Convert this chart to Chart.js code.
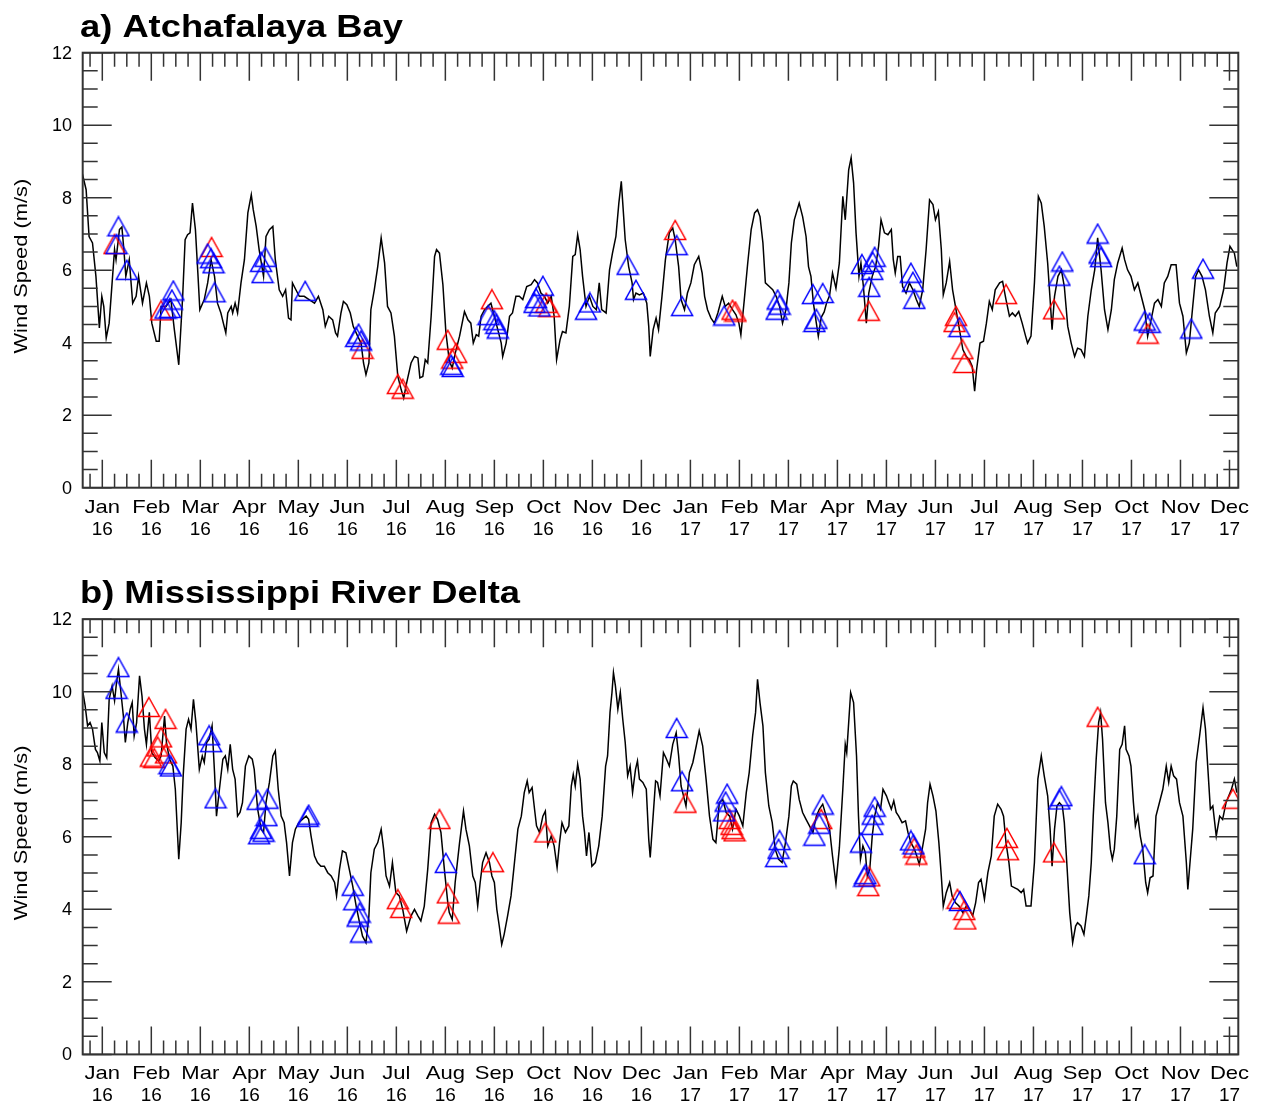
<!DOCTYPE html>
<html>
<head>
<meta charset="utf-8">
<title>Wind speed</title>
<script src="https://cdn.jsdelivr.net/npm/chart.js@4.4.1/dist/chart.umd.min.js"></script>
<style>
  html, body { margin: 0; padding: 0; background: #fff; }
  canvas { position: absolute; left: 0; }
  #panelA { top: 0; }
  #panelB { top: 553px; }
</style>
</head>
<body>
<canvas id="panelA" width="1261" height="553"></canvas>
<canvas id="panelB" width="1261" height="553"></canvas>
<script>
// x values are months counted from Jan 2016 (0 = Jan 16 tick)
const monthNames = ["Jan","Feb","Mar","Apr","May","Jun","Jul","Aug","Sep","Oct","Nov","Dec",
                    "Jan","Feb","Mar","Apr","May","Jun","Jul","Aug","Sep","Oct","Nov","Dec"];
const yearNames = ["16","16","16","16","16","16","16","16","16","16","16","16",
                   "17","17","17","17","17","17","17","17","17","17","17","17"];
const yTicks = [0, 2, 4, 6, 8, 10, 12];

// a) Atchafalaya Bay - wind speed (m/s)
const tA = [-0.41,-0.33,-0.27,-0.20,-0.13,-0.06,-0.01,0.03,0.08,0.14,0.20,0.25,0.28,0.35,0.40,0.44,0.48,0.55,0.62,0.69,
  0.74,0.82,0.90,0.96,1.01,1.10,1.16,1.20,1.30,1.40,1.47,1.56,1.64,1.69,1.74,1.79,1.84,1.90,1.95,1.99,
  2.08,2.15,2.22,2.29,2.35,2.42,2.47,2.52,2.56,2.63,2.66,2.71,2.76,2.83,2.90,2.97,3.04,3.08,3.14,3.20,
  3.29,3.34,3.41,3.48,3.53,3.61,3.68,3.74,3.80,3.85,3.88,3.95,4.02,4.12,4.22,4.33,4.41,4.50,4.55,4.62,
  4.70,4.76,4.80,4.87,4.92,4.99,5.06,5.12,5.21,5.28,5.33,5.38,5.44,5.48,5.55,5.62,5.69,5.76,5.82,5.89,
  5.96,6.03,6.10,6.15,6.21,6.30,6.37,6.44,6.48,6.54,6.59,6.64,6.71,6.78,6.82,6.88,6.95,7.01,7.08,7.14,
  7.20,7.29,7.39,7.46,7.52,7.57,7.63,7.68,7.73,7.80,7.86,7.93,8.00,8.07,8.14,8.17,8.24,8.31,8.37,8.44,
  8.51,8.58,8.66,8.75,8.82,8.88,8.95,9.02,9.09,9.16,9.22,9.27,9.34,9.39,9.46,9.53,9.60,9.65,9.70,9.75,
  9.80,9.87,9.94,10.01,10.08,10.14,10.19,10.28,10.35,10.41,10.48,10.54,10.59,10.62,10.67,10.74,10.81,10.84,10.89,10.96,
  11.04,11.11,11.15,11.18,11.24,11.30,11.35,11.42,11.49,11.57,11.64,11.69,11.76,11.81,11.88,11.94,12.01,12.08,12.17,12.24,
  12.29,12.35,12.42,12.49,12.56,12.65,12.71,12.78,12.86,12.93,12.99,13.03,13.10,13.17,13.24,13.31,13.37,13.42,13.48,13.53,
  13.61,13.68,13.75,13.82,13.88,13.95,14.01,14.06,14.12,14.22,14.29,14.36,14.41,14.46,14.51,14.57,14.61,14.67,14.73,14.78,
  14.84,14.90,14.97,15.04,15.11,15.16,15.23,15.28,15.33,15.38,15.44,15.48,15.53,15.59,15.64,15.71,15.78,15.84,15.89,15.96,
  16.03,16.10,16.14,16.18,16.23,16.28,16.33,16.40,16.47,16.54,16.61,16.67,16.74,16.81,16.88,16.95,17.00,17.06,17.12,17.16,
  17.22,17.29,17.35,17.42,17.49,17.56,17.63,17.69,17.75,17.80,17.84,17.91,17.98,18.04,18.10,18.16,18.22,18.31,18.37,18.44,
  18.51,18.57,18.63,18.70,18.77,18.84,18.88,18.95,19.02,19.07,19.10,19.16,19.22,19.29,19.34,19.38,19.43,19.50,19.57,19.63,
  19.70,19.77,19.84,19.90,19.97,20.04,20.11,20.18,20.25,20.31,20.38,20.45,20.52,20.59,20.65,20.72,20.81,20.86,20.92,20.99,
  21.06,21.13,21.20,21.27,21.33,21.40,21.47,21.54,21.61,21.67,21.74,21.81,21.91,21.98,22.05,22.12,22.18,22.25,22.31,22.37,
  22.44,22.51,22.59,22.66,22.71,22.80,22.88,22.95,23.01,23.10,23.15];
const wA = [8.68,8.22,6.93,6.75,5.83,4.41,5.28,5.00,4.13,4.54,5.65,6.57,6.29,7.12,7.19,6.57,5.83,6.29,5.09,5.28,
  5.83,5.09,5.65,5.28,4.54,4.04,4.04,5.00,5.00,5.19,4.36,3.39,5.28,6.84,6.98,7.03,7.85,7.12,5.92,4.91,
  5.19,5.65,6.29,5.83,5.09,4.82,4.54,4.27,4.82,5.00,4.82,5.09,4.82,5.65,6.29,7.58,8.08,7.67,7.21,6.57,
  5.83,6.93,7.12,7.21,6.29,5.46,5.28,5.46,4.68,4.63,5.65,5.46,5.28,5.28,5.19,5.09,5.28,4.91,4.45,4.73,
  4.63,4.27,4.18,4.82,5.14,5.05,4.82,4.45,4.18,3.99,3.44,3.12,3.44,4.91,5.46,6.10,6.89,6.20,5.00,4.82,
  4.18,3.07,2.70,2.47,2.89,3.44,3.62,3.58,3.03,3.07,3.53,3.44,4.73,6.38,6.57,6.47,5.60,4.30,3.50,3.30,
  3.70,4.18,4.86,4.63,4.54,3.99,4.22,4.18,4.73,4.91,5.00,5.09,4.73,4.36,3.99,3.62,3.99,4.73,4.82,5.28,
  5.28,5.19,5.55,5.60,5.74,5.65,5.37,5.28,5.09,5.28,4.73,3.53,4.08,4.31,4.27,5.00,6.38,6.43,6.98,6.57,
  5.83,5.00,5.28,5.00,4.91,5.65,4.91,4.82,6.01,6.47,6.93,7.85,8.45,7.85,6.84,6.10,5.65,5.19,5.37,5.32,
  5.37,5.09,4.45,3.62,4.36,4.68,4.36,5.28,6.29,7.03,7.16,6.84,6.10,5.19,4.91,5.37,5.65,6.15,6.38,5.92,
  5.28,4.91,4.68,4.54,4.82,5.28,5.00,5.09,4.91,4.77,4.54,4.22,5.19,6.20,7.12,7.58,7.67,7.48,6.75,5.65,
  5.55,5.46,5.28,5.00,4.54,4.91,5.65,6.75,7.39,7.85,7.48,6.93,6.10,5.83,5.09,4.54,4.18,4.70,4.85,5.10,
  5.30,5.92,5.50,6.20,8.04,7.39,8.77,9.10,8.41,7.03,5.83,6.20,5.55,4.54,5.37,5.83,6.10,6.66,7.39,7.03,
  6.98,7.12,6.29,5.92,6.38,6.38,5.55,5.37,5.65,5.46,5.19,5.00,5.46,6.57,7.94,7.81,7.39,7.62,6.57,5.32,
  5.65,6.24,5.46,4.91,4.36,3.81,3.62,3.53,3.35,2.66,3.26,3.99,4.04,4.54,5.14,4.91,5.46,5.65,5.69,5.19,
  4.73,4.82,4.73,4.86,4.54,4.18,3.99,4.18,5.65,7.12,8.04,7.85,7.21,6.20,5.19,4.36,5.28,5.83,6.01,5.55,
  4.45,3.99,3.62,3.85,3.81,3.62,4.73,5.46,6.01,6.89,6.01,4.91,4.36,4.91,5.74,6.20,6.61,6.29,6.01,5.83,
  5.46,5.65,5.28,4.91,4.18,4.63,5.09,5.19,5.00,5.65,5.83,6.15,6.15,5.09,4.73,3.72,3.99,5.00,5.83,6.01,
  5.83,5.46,4.73,4.27,4.82,5.00,5.46,6.20,6.66,6.47,6.10];
const blueAx = [0.33,0.29,0.50,1.45,1.42,1.38,1.29,2.15,2.22,2.27,2.29,3.33,3.24,3.27,4.14,5.23,5.18,5.28,7.12,7.15,
  7.88,8.00,8.07,8.04,8.99,8.85,8.92,8.82,9.87,9.95,10.72,10.89,11.72,11.83,12.69,13.78,13.82,13.76,14.50,14.70,
  14.57,14.53,15.50,15.76,15.72,15.71,15.65,16.50,16.54,16.57,17.49,19.53,19.59,20.31,20.35,20.38,21.27,21.37,22.22,22.46];
const blueAy = [7.21,6.72,6.01,5.44,5.19,4.96,4.94,6.46,6.33,6.19,5.39,6.37,6.23,5.92,5.43,4.25,4.16,4.06,3.39,3.33,
  4.76,4.62,4.39,4.52,5.57,5.23,5.00,5.10,4.91,5.11,6.15,5.46,6.69,5.01,4.75,5.19,5.05,4.91,5.34,5.37,
  4.66,4.57,6.17,6.37,6.23,6.01,5.54,5.93,5.68,5.21,4.43,5.85,6.24,7.01,6.46,6.36,4.61,4.55,4.39,6.04];
const redAx = [0.25,1.20,2.23,5.31,6.03,6.13,7.05,7.14,7.22,7.95,9.06,9.12,11.69,12.86,12.92,15.64,17.42,17.39,17.55,17.59,
  18.44,19.42,21.33];
const redAy = [6.72,4.89,6.64,3.83,2.86,2.73,4.08,3.56,3.72,5.20,5.10,4.98,7.11,4.91,4.86,4.88,4.74,4.57,3.82,3.44,
  5.34,4.92,4.25];

// b) Mississippi River Delta - wind speed (m/s)
const tB = [-0.40,-0.35,-0.30,-0.25,-0.20,-0.14,-0.10,-0.05,-0.01,0.04,0.09,0.14,0.20,0.25,0.29,0.33,0.38,0.43,0.47,0.52,
  0.57,0.61,0.65,0.70,0.76,0.81,0.86,0.90,0.96,1.01,1.08,1.15,1.20,1.27,1.31,1.37,1.44,1.49,1.56,1.61,
  1.65,1.71,1.76,1.81,1.86,1.91,1.98,2.04,2.08,2.13,2.18,2.24,2.29,2.33,2.39,2.46,2.51,2.56,2.61,2.66,
  2.71,2.76,2.81,2.86,2.92,2.99,3.06,3.10,3.17,3.24,3.29,3.34,3.41,3.48,3.53,3.59,3.65,3.71,3.76,3.82,
  3.88,3.94,4.01,4.08,4.16,4.21,4.26,4.33,4.39,4.46,4.53,4.60,4.67,4.74,4.78,4.84,4.90,4.97,5.04,5.11,
  5.18,5.25,5.31,5.38,5.44,5.48,5.55,5.62,5.69,5.74,5.79,5.86,5.92,5.99,6.06,6.13,6.21,6.30,6.37,6.44,
  6.50,6.57,6.64,6.71,6.78,6.84,6.91,6.98,7.05,7.08,7.14,7.20,7.29,7.37,7.42,7.49,7.56,7.61,7.66,7.71,
  7.76,7.83,7.90,7.95,8.00,8.05,8.10,8.15,8.20,8.27,8.34,8.41,8.48,8.55,8.61,8.67,8.71,8.77,8.82,8.86,
  8.92,8.99,9.04,9.09,9.16,9.22,9.28,9.33,9.38,9.45,9.52,9.57,9.61,9.65,9.70,9.75,9.80,9.84,9.88,9.93,
  9.99,10.06,10.13,10.20,10.27,10.31,10.36,10.40,10.43,10.47,10.52,10.57,10.62,10.67,10.72,10.77,10.82,10.88,10.92,10.96,
  11.03,11.10,11.15,11.18,11.23,11.29,11.33,11.38,11.45,11.50,11.57,11.64,11.71,11.76,11.81,11.86,11.91,11.98,12.05,12.12,
  12.18,12.25,12.32,12.39,12.46,12.52,12.59,12.66,12.73,12.80,12.86,12.93,13.00,13.07,13.14,13.20,13.27,13.33,13.37,13.42,
  13.48,13.53,13.60,13.67,13.73,13.80,13.87,13.94,14.01,14.06,14.10,14.17,14.22,14.29,14.36,14.43,14.50,14.57,14.63,14.70,
  14.77,14.84,14.90,14.97,15.04,15.11,15.16,15.19,15.23,15.27,15.33,15.39,15.43,15.47,15.52,15.57,15.61,15.66,15.71,15.76,
  15.82,15.88,15.93,16.00,16.05,16.10,16.15,16.20,16.25,16.32,16.39,16.44,16.50,16.57,16.62,16.67,16.73,16.80,16.84,16.89,
  16.95,17.01,17.07,17.12,17.16,17.22,17.29,17.34,17.41,17.48,17.56,17.63,17.69,17.76,17.82,17.88,17.93,18.00,18.07,18.14,
  18.20,18.27,18.34,18.39,18.44,18.50,18.55,18.61,18.68,18.75,18.80,18.85,18.95,19.02,19.09,19.16,19.22,19.29,19.34,19.38,
  19.43,19.48,19.53,19.59,19.63,19.68,19.74,19.80,19.86,19.90,19.97,20.03,20.08,20.13,20.18,20.22,20.28,20.33,20.37,20.41,
  20.47,20.52,20.57,20.61,20.65,20.70,20.76,20.81,20.86,20.89,20.95,20.99,21.04,21.08,21.13,21.18,21.23,21.29,21.33,21.38,
  21.44,21.50,21.57,21.64,21.71,21.76,21.81,21.86,21.92,21.98,22.05,22.12,22.15,22.20,22.25,22.32,22.39,22.46,22.51,22.56,
  22.61,22.66,22.73,22.80,22.86,22.93,23.04,23.10,23.15];
const wB = [10.02,9.61,9.06,9.15,8.97,8.41,8.32,8.09,9.15,8.32,8.18,9.79,10.16,9.75,10.25,10.62,9.98,9.33,8.60,9.15,
  9.52,9.70,8.78,9.15,10.44,9.88,8.97,8.55,9.43,8.32,8.18,8.09,8.23,9.33,8.60,8.14,7.95,7.31,5.38,6.39,
  7.68,8.97,9.24,8.97,9.79,9.15,7.86,8.23,8.05,8.60,8.69,9.06,7.77,6.57,7.31,8.14,8.23,7.86,8.55,7.86,
  7.59,6.57,6.67,6.94,7.95,8.23,8.14,7.86,6.76,6.21,6.12,6.94,7.50,8.23,8.37,7.31,6.57,6.39,5.84,4.92,
  5.84,6.21,6.39,6.48,6.57,6.48,6.02,5.47,5.29,5.19,5.19,5.01,4.92,4.74,4.37,5.10,5.61,5.56,5.10,4.64,
  4.09,3.63,3.26,3.08,3.82,5.01,5.66,5.84,6.21,5.66,4.92,4.64,5.29,4.46,4.37,4.00,3.40,3.82,4.00,3.82,
  3.68,4.09,5.10,6.39,6.62,6.48,6.12,5.10,4.18,3.91,3.72,4.74,5.84,6.71,6.21,5.75,4.92,4.74,4.09,4.74,
  5.29,5.56,5.29,4.92,4.74,4.00,3.54,3.03,3.31,3.82,4.37,5.29,6.21,6.57,7.22,7.54,7.22,7.36,6.76,6.30,
  6.12,6.57,6.71,5.75,6.02,5.75,5.15,5.84,6.39,6.12,6.30,7.40,7.72,7.40,8.00,7.59,6.57,6.12,5.47,6.12,
  5.19,5.29,5.75,6.57,7.95,8.23,9.43,9.98,10.53,10.16,9.52,9.98,9.24,8.60,7.68,7.95,7.22,7.86,8.09,7.59,
  7.50,7.31,5.93,5.43,6.39,7.54,7.50,7.13,8.32,8.18,7.95,8.55,8.87,8.23,7.40,7.13,6.85,7.77,8.05,8.51,
  8.92,8.51,7.59,6.57,5.93,5.84,6.94,7.03,6.67,6.57,6.21,6.76,6.57,6.30,7.22,7.77,8.78,9.43,10.34,9.70,
  9.06,7.77,6.85,6.39,5.66,5.38,5.29,5.84,6.57,7.40,7.54,7.45,7.03,6.67,6.48,6.30,6.12,6.57,6.76,6.90,
  6.57,6.21,5.47,4.71,5.70,7.31,8.55,8.32,9.15,9.98,9.70,8.23,6.57,5.38,5.75,5.56,4.92,5.10,6.02,6.57,
  6.94,6.76,7.31,7.13,6.94,6.76,6.99,6.67,6.57,6.39,6.44,6.12,5.84,5.66,5.47,5.24,5.66,6.21,6.94,7.45,
  7.13,6.71,5.84,4.92,4.09,4.46,4.74,4.37,4.18,4.09,3.91,4.09,4.00,3.82,4.18,4.74,4.83,4.28,5.01,5.47,
  6.57,6.90,6.76,6.57,5.84,5.29,4.64,4.60,4.55,4.46,4.55,4.09,4.09,5.29,7.59,8.23,7.68,7.13,6.21,5.19,
  6.21,6.85,6.94,6.85,6.39,5.29,3.91,3.08,3.54,3.63,3.54,3.31,3.82,4.37,5.29,6.57,8.14,9.15,9.43,8.69,
  6.94,6.39,5.66,5.38,5.66,6.57,8.41,8.55,9.06,8.41,8.23,7.95,6.94,6.30,6.57,6.02,5.66,4.74,4.46,4.87,
  4.92,6.57,6.94,7.31,7.95,7.50,7.95,7.68,7.59,6.94,6.57,5.29,4.55,5.38,6.21,8.05,8.78,9.56,8.97,7.86,
  6.76,6.85,6.02,6.57,6.48,6.94,7.31,7.59,7.22];
const blueBx = [0.33,0.29,0.50,1.37,1.40,2.18,2.22,2.31,3.17,3.37,3.35,3.24,3.29,3.20,4.21,4.19,5.11,5.14,5.25,5.21,
  5.28,7.01,11.72,11.83,12.75,12.72,12.69,13.82,13.80,13.75,14.70,14.63,14.53,15.76,15.72,15.71,15.48,15.57,15.55,16.50,
  16.55,17.50,19.57,19.53,21.27];
const blueBy = [10.68,10.08,9.15,8.00,7.94,8.80,8.61,7.06,7.02,7.05,6.57,6.22,6.14,6.07,6.61,6.55,4.65,4.25,3.91,3.80,
  3.36,5.28,9.00,7.53,7.19,6.97,6.70,5.91,5.67,5.44,6.89,6.36,6.03,6.83,6.61,6.33,5.84,4.97,4.90,5.90,
  5.79,4.23,7.12,7.03,5.52];
const redBx = [0.95,1.29,1.20,1.13,0.99,1.06,1.30,6.03,6.10,6.88,7.05,7.07,7.97,9.04,11.90,12.80,12.84,12.86,12.90,14.67,
  15.65,15.63,16.61,16.57,17.45,17.59,17.61,18.46,18.48,19.42,20.31,23.07];
const redBy = [9.58,9.25,8.74,8.49,8.21,8.17,8.30,4.28,4.04,6.49,4.44,3.88,5.30,6.12,6.94,6.49,6.33,6.21,6.15,6.49,
  4.91,4.64,5.51,5.70,4.29,3.98,3.72,5.97,5.63,5.57,9.31,7.05];

// open triangle symbol, centred half way between apex and base
function triangle(color) {
  const c = document.createElement("canvas");
  c.width = 24; c.height = 22;
  const g = c.getContext("2d");
  g.strokeStyle = color;
  g.lineWidth = 1.5;
  g.beginPath();
  g.moveTo(12, 1.5);
  g.lineTo(22.5, 20.5);
  g.lineTo(1.5, 20.5);
  g.closePath();
  g.stroke();
  return c;
}
const triBlue = triangle("#0000ff");
const triRed = triangle("#ff0000");

function pts(xs, ys) {
  return xs.map((x, i) => ({ x: x, y: ys[i] }));
}

function stretchText(ctx, text, x, y, sx, align) {
  ctx.save();
  ctx.translate(x, y);
  ctx.scale(sx, 1);
  ctx.textAlign = align;
  ctx.fillText(text, 0, 0);
  ctx.restore();
}

const framePlugin = {
  id: "frame",
  afterDraw(chart, args, opts) {
    const ctx = chart.ctx;
    const a = chart.chartArea;
    const xs = chart.scales.x, ys = chart.scales.y;
    ctx.save();

    // tick marks on all four sides
    ctx.strokeStyle = "#333";
    ctx.lineWidth = 1.5;
    ctx.beginPath();
    for (let k = Math.ceil(xs.min * 4); k <= Math.floor(xs.max * 4); k++) {
      const px = xs.getPixelForValue(k / 4);
      const len = k % 4 === 0 ? 28 : 14;
      ctx.moveTo(px, a.bottom); ctx.lineTo(px, a.bottom - len);
      ctx.moveTo(px, a.top); ctx.lineTo(px, a.top + len);
    }
    for (let k = 0; k <= 24; k++) {
      const py = ys.getPixelForValue(k / 2);
      const len = k % 4 === 0 ? 29 : 15;
      ctx.moveTo(a.left, py); ctx.lineTo(a.left + len, py);
      ctx.moveTo(a.right, py); ctx.lineTo(a.right - len, py);
    }
    ctx.stroke();

    ctx.lineWidth = 2;
    ctx.strokeRect(a.left, a.top, a.right - a.left, a.bottom - a.top);

    ctx.fillStyle = "#000";
    // y tick labels
    ctx.font = "18px 'Liberation Sans', Arial, sans-serif";
    ctx.textBaseline = "middle";
    ctx.textAlign = "right";
    yTicks.forEach(v => ctx.fillText(String(v), 72, ys.getPixelForValue(v) + 1));

    // month / year labels
    ctx.textBaseline = "alphabetic";
    ctx.font = "19px 'Liberation Sans', Arial, sans-serif";
    monthNames.forEach((m, i) => {
      const px = xs.getPixelForValue(i);
      stretchText(ctx, m, px, a.bottom + 25, 1.16, "center");
      stretchText(ctx, yearNames[i], px, a.bottom + 47, 1.0, "center");
    });

    // y axis title
    ctx.save();
    ctx.translate(27, (a.top + a.bottom) / 2 - 4);
    ctx.rotate(-Math.PI / 2);
    ctx.font = "18.5px 'Liberation Sans', Arial, sans-serif";
    stretchText(ctx, "Wind Speed (m/s)", 0, 0, 1.18, "center");
    ctx.restore();

    // panel title
    ctx.font = "bold 32px 'Liberation Sans', Arial, sans-serif";
    stretchText(ctx, opts.title, 80, a.top - 16, 1.135, "left");

    ctx.restore();
  }
};

function makePanel(id, title, t, w, bx, by, rx, ry, padTop, padBottom) {
  return new Chart(document.getElementById(id), {
    type: "line",
    data: {
      datasets: [
        { data: pts(t, w), borderColor: "#000", borderWidth: 1.5, pointRadius: 0, tension: 0, order: 3 },
        { data: pts(rx, ry), showLine: false, pointStyle: triRed, pointRadius: 10, order: 2 },
        { data: pts(bx, by), showLine: false, pointStyle: triBlue, pointRadius: 10, order: 1 }
      ]
    },
    options: {
      responsive: false,
      animation: false,
      events: [],
      layout: { padding: { left: 82.7, right: 22.7, top: padTop, bottom: padBottom } },
      plugins: {
        legend: { display: false },
        tooltip: { enabled: false },
        frame: { title: title }
      },
      scales: {
        x: { type: "linear", min: -0.40, max: 23.18, display: false },
        y: { type: "linear", min: 0, max: 12, display: false }
      }
    },
    plugins: [framePlugin]
  });
}

makePanel("panelA", "a) Atchafalaya Bay", tA, wA, blueAx, blueAy, redAx, redAy, 52.7, 65.3);
makePanel("panelB", "b) Mississippi River Delta", tB, wB, blueBx, blueBy, redBx, redBy, 66.2, 51.6);
</script>
</body>
</html>
